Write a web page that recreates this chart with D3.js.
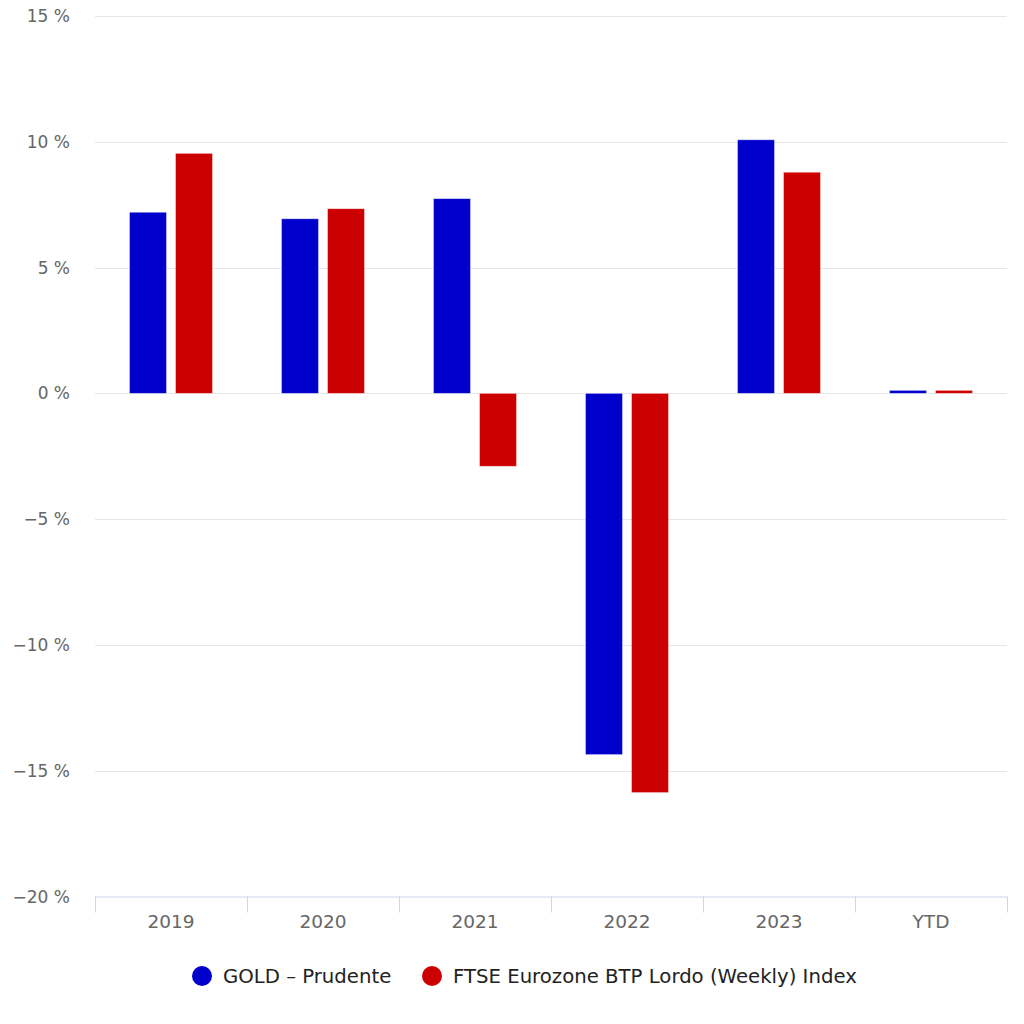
<!DOCTYPE html>
<html><head><meta charset="utf-8">
<script src="https://cdn.jsdelivr.net/npm/d3@7"></script>
<style>body{margin:0;background:#fff}svg{display:block;font-family:"DejaVu Sans",sans-serif}</style>
</head><body><svg id="c" width="1024" height="1024"></svg>
<script>
const categories = ["2019","2020","2021","2022","2023","YTD"];
const seriesNames = ["GOLD – Prudente","FTSE Eurozone BTP Lordo (Weekly) Index"];
const seriesColors = ["#0000cc","#cc0000"];
const goldValues = [7.2, 6.94, 7.74, -14.36, 10.08, 0.12];
const ftseValues = [9.54, 7.34, -2.9, -15.87, 8.79, 0.12];
const yTicks = [-20,-15,-10,-5,0,5,10,15];

const svg = d3.select("#c");
const L = 95, R = 1007, T = 16, B = 896.5;
const x = d3.scaleBand().domain(categories).range([L,R]);
const y = d3.scaleLinear().domain([-20,15]).range([B,T]);
const x1 = d3.scaleBand().domain([0,1]).range([0,x.bandwidth()]).paddingInner(0.196).paddingOuter(0.75);

// gridlines
svg.append("g").selectAll("line").data(yTicks.filter(d=>d>-20)).join("line")
  .attr("x1",L).attr("x2",R).attr("y1",d=>Math.round(y(d))+0.5).attr("y2",d=>Math.round(y(d))+0.5)
  .attr("stroke","#e6e6e6").attr("stroke-width",1);

// y labels
svg.append("g").selectAll("text").data(yTicks).join("text")
  .attr("x",70).attr("y",d=>y(d)+6).attr("text-anchor","end")
  .attr("fill","#666").attr("font-size",17)
  .text(d=>(d<0?"\u2212"+Math.abs(d):d)+" %");

// bars
const data = [goldValues, ftseValues];
data.forEach((vals,si)=>{
  svg.append("g").selectAll("rect").data(vals).join("rect")
    .attr("x",(d,i)=>x(categories[i])+x1(si))
    .attr("width",x1.bandwidth())
    .attr("y",d=>y(Math.max(0,d)))
    .attr("height",d=>Math.abs(y(d)-y(0)))
    .attr("fill",seriesColors[si])
    .attr("stroke","rgba(255,255,255,0.5)").attr("stroke-width",0.8);
});

// x axis
const xa = svg.append("g");
xa.append("line").attr("x1",L).attr("x2",R).attr("y1",B+0.5).attr("y2",B+0.5).attr("stroke","#ccd6eb");
const bounds = categories.map(c=>x(c)).concat([R]);
xa.selectAll("line.t").data(bounds).join("line").attr("class","t")
  .attr("x1",d=>Math.round(d)+0.5).attr("x2",d=>Math.round(d)+0.5)
  .attr("y1",B).attr("y2",B+16).attr("stroke","#ccd6eb");
xa.selectAll("text").data(categories).join("text")
  .attr("x",d=>x(d)+x.bandwidth()/2).attr("y",928).attr("text-anchor","middle")
  .attr("fill","#666").attr("font-size",18.5).text(d=>d);

// legend
const lg = svg.append("g");
const legX = [202, 432];
seriesNames.forEach((n,i)=>{
  lg.append("circle").attr("cx",legX[i]).attr("cy",976).attr("r",10).attr("fill",seriesColors[i]);
  lg.append("text").attr("x",legX[i]+21).attr("y",983).attr("fill","#222").attr("font-size",19.7).text(n);
});
</script></body></html>
